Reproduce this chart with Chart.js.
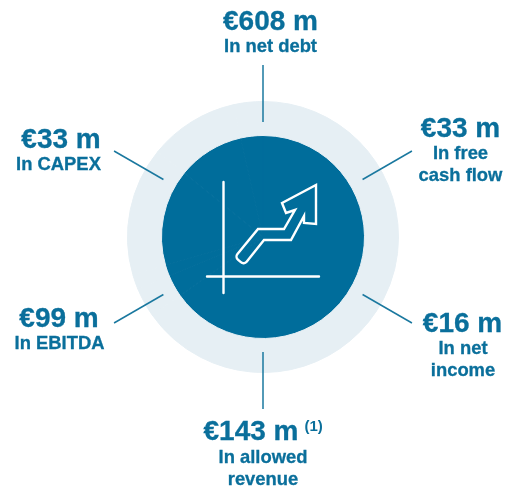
<!DOCTYPE html>
<html>
<head>
<meta charset="utf-8">
<title>Financial impact</title>
<script src="https://cdn.jsdelivr.net/npm/chart.js@4"></script>
<style>
    html, body { margin: 0; padding: 0; background: #ffffff; }
    canvas { display: block; }
</style>
</head>
<body>
<canvas id="grafico" width="510" height="492"></canvas>
<script>
// clockwise from the top
const categories = [
    ["In net debt"],
    ["In free", "cash flow"],
    ["In net", "income"],
    ["In allowed", "revenue"],
    ["In EBITDA"],
    ["In CAPEX"]
];
const values = [608, 33, 16, 143, 99, 33];
const notes = ["", "", "", "(1)", "", ""];

const blue = "#006d9b";
const ring = "#e6eff4";
const textBlue = "#0a6f9b";

// centre x of value, centre x of sub label, baseline of value, baseline of first sub label
const labelPlaces = [
    [270.5, 270.5, 30, 52],
    [460.5, 460.5, 137, 159],
    [462.5, 463, 332, 354],
    [251, 263, 440, 463],
    [59, 59.5, 327, 349],
    [61, 58.5, 148, 170]
];

// arrow of the icon, relative to the centre of the circle
// the third number rounds that corner (the tail)
const arrow = [
    [53, -52], [53, -13], [41, -14], [41, -21], [28, 3], [1, 3],
    [-19, 28, 4], [-28, 20, 4], [-5, -8], [21, -8], [32, -27], [23, -24], [19, -34]
];

// leader lines
const spokes = {
    id: "spokes",
    afterDatasetsDraw(chart) {
        const ctx = chart.ctx;
        const arc = chart.getDatasetMeta(0).data[0];
        ctx.save();
        ctx.strokeStyle = "#1a789f";
        ctx.lineWidth = 1.5;
        categories.forEach((c, i) => {
            const a = -Math.PI / 2 + i * Math.PI / 3;
            ctx.beginPath();
            ctx.moveTo(arc.x + 115 * Math.cos(a), arc.y + 115 * Math.sin(a));
            ctx.lineTo(arc.x + 172 * Math.cos(a), arc.y + 172 * Math.sin(a));
            ctx.stroke();
        });
        ctx.restore();
    }
};

const icon = {
    id: "icon",
    afterDatasetsDraw(chart) {
        const ctx = chart.ctx;
        const arc = chart.getDatasetMeta(0).data[0];
        const x = arc.x;
        const y = arc.y;
        ctx.save();
        ctx.strokeStyle = "#ffffff";
        ctx.lineWidth = 2.4;
        ctx.lineCap = "round";
        ctx.lineJoin = "miter";

        ctx.beginPath();
        ctx.moveTo(x - 39.5, y - 55);
        ctx.lineTo(x - 39.5, y + 56);
        ctx.moveTo(x - 56, y + 39.5);
        ctx.lineTo(x + 56, y + 39.5);
        ctx.stroke();

        ctx.beginPath();
        arrow.forEach((p, i) => {
            const next = arrow[i + 1];
            if (i === 0) {
                ctx.moveTo(x + p[0], y + p[1]);
            } else if (p[2]) {
                ctx.arcTo(x + p[0], y + p[1], x + next[0], y + next[1], p[2]);
            } else {
                ctx.lineTo(x + p[0], y + p[1]);
            }
        });
        ctx.closePath();
        ctx.stroke();
        ctx.restore();
    }
};

const labels = {
    id: "labels",
    afterDraw(chart) {
        const ctx = chart.ctx;
        ctx.save();
        ctx.fillStyle = textBlue;
        ctx.strokeStyle = textBlue;
        ctx.lineWidth = 0.3;
        ctx.textAlign = "center";
        ctx.textBaseline = "alphabetic";
        categories.forEach((linhas, i) => {
            const p = labelPlaces[i];
            const texto = "€" + values[i] + " m";
            ctx.font = "bold 28px 'Liberation Sans'";
            ctx.fillText(texto, p[0], p[2]);
            ctx.strokeText(texto, p[0], p[2]);
            if (notes[i]) {
                const fim = p[0] + ctx.measureText(texto).width / 2;
                ctx.font = "bold 15px 'Liberation Sans'";
                ctx.textAlign = "left";
                ctx.fillText(notes[i], fim + 6, p[2] - 9);
                ctx.textAlign = "center";
            }
            ctx.font = "bold 18.4px 'Liberation Sans'";
            linhas.forEach((linha, j) => {
                ctx.fillText(linha, p[1], p[3] + j * 22);
                ctx.strokeText(linha, p[1], p[3] + j * 22);
            });
        });
        ctx.restore();
    }
};

new Chart(document.getElementById("grafico"), {
    type: "doughnut",
    data: {
        labels: categories,
        datasets: [
            {
                data: values,
                weight: 34,
                backgroundColor: ring,
                borderColor: ring,
                borderWidth: 1
            },
            {
                data: values,
                weight: 101.5,
                backgroundColor: blue,
                borderColor: blue,
                borderWidth: 1
            }
        ]
    },
    options: {
        responsive: false,
        animation: false,
        radius: 135.5,
        cutout: 0,
        layout: { padding: { left: 16, bottom: 18 } },
        plugins: {
            legend: { display: false },
            tooltip: { enabled: false }
        }
    },
    plugins: [spokes, icon, labels]
});
</script>
</body>
</html>
